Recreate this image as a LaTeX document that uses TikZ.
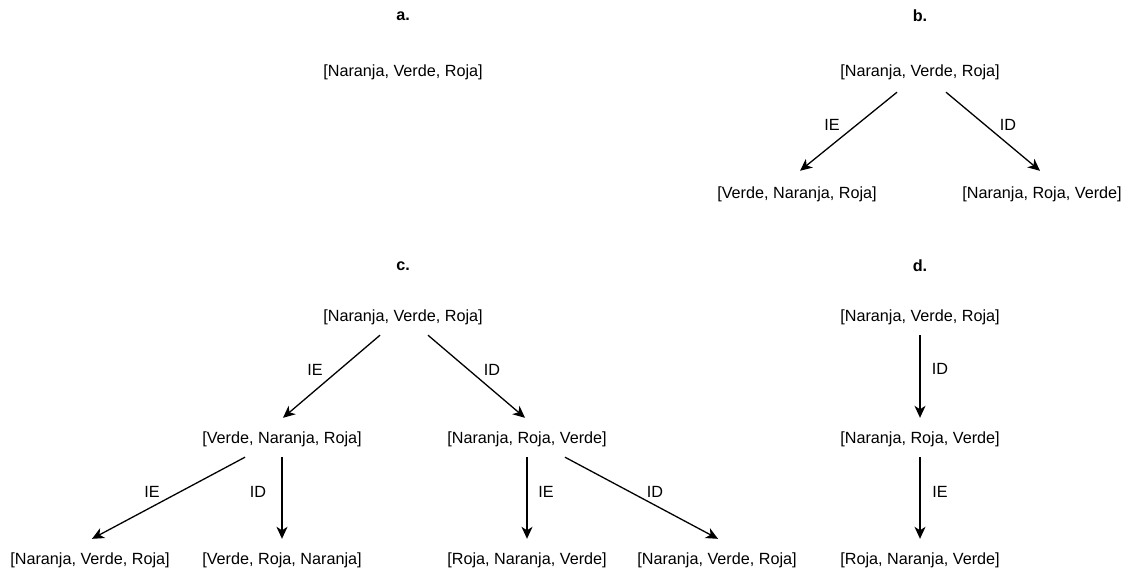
\documentclass[tikz,border=0pt]{standalone}
\usepackage{fontspec}
\setmainfont{Liberation Sans}
\usetikzlibrary{arrows.meta}
\begin{document}
\begin{tikzpicture}[x=1pt,y=-1pt,
  lst/.style={font=\fontsize{16.2}{19}\selectfont, inner xsep=0pt, inner ysep=14pt,
              text height=12pt, text depth=0pt},
  ttl/.style={font=\fontsize{16.2}{19}\selectfont\bfseries, inner sep=0pt, yshift=-4pt},
  lbl/.style={font=\fontsize{16.2}{19}\selectfont, inner sep=0pt},
  arr/.style={line width=1.3pt, -{Stealth[length=12pt,width=11pt,inset=3.5pt]}}]
\useasboundingbox (0,0) rectangle (1131,571);

% titles
\node[ttl] (ta) at (403,12) {a.};
\node[ttl] (tb) at (920,12) {b.};
\node[ttl] (tc) at (403,262) {c.};
\node[ttl] (td) at (920,262) {d.};

% a.
\node[lst] (a0) at (403,70) {[Naranja, Verde, Roja]};

% b.
\node[lst] (b0) at (920,70) {[Naranja, Verde, Roja]};
\node[lst] (b1) at (797,192) {[Verde, Naranja, Roja]};
\node[lst] (b2) at (1042,192) {[Naranja, Roja, Verde]};
\draw[arr] ([xshift=-23pt,yshift=-2pt]b0.south) -- ([xshift=3pt,yshift=1pt]b1.north);
\draw[arr] ([xshift=26pt,yshift=-2pt]b0.south) -- ([xshift=-2pt,yshift=1pt]b2.north);
\node[lbl] (b1l) at (832,125) {IE};
\node[lbl] (b2l) at (1008,125) {ID};

% c.
\node[lst] (c0) at (403,315) {[Naranja, Verde, Roja]};
\node[lst] (c1) at (282,437) {[Verde, Naranja, Roja]};
\node[lst] (c2) at (527,437) {[Naranja, Roja, Verde]};
\node[lst] (c3) at (90,558) {[Naranja, Verde, Roja]};
\node[lst] (c4) at (282,558) {[Verde, Roja, Naranja]};
\node[lst] (c5) at (527,558) {[Roja, Naranja, Verde]};
\node[lst] (c6) at (717,558) {[Naranja, Verde, Roja]};
\draw[arr] ([xshift=-23pt]c0.south) -- ([xshift=1pt,yshift=-1pt]c1.north);
\draw[arr] ([xshift=25pt]c0.south) -- ([xshift=-2pt,yshift=-1pt]c2.north);
\draw[arr] ([xshift=-37pt]c1.south) -- ([xshift=2pt,yshift=-1pt]c3.north);
\draw[arr] (c1.south) -- ([yshift=-1pt]c4.north);
\draw[arr] (c2.south) -- ([yshift=-1pt]c5.north);
\draw[arr] ([xshift=38pt]c2.south) -- ([xshift=1pt,yshift=-1pt]c6.north);
\node[lbl] (c1l) at (315,370) {IE};
\node[lbl] (c2l) at (492,370) {ID};
\node[lbl] (c3l) at (152,492) {IE};
\node[lbl] (c4l) at (258,492) {ID};
\node[lbl] (c5l) at (546,492) {IE};
\node[lbl] (c6l) at (655,492) {ID};

% d.
\node[lst] (d0) at (920,315) {[Naranja, Verde, Roja]};
\node[lst] (d1) at (920,437) {[Naranja, Roja, Verde]};
\node[lst] (d2) at (920,558) {[Roja, Naranja, Verde]};
\draw[arr] (d0.south) -- ([yshift=-1pt]d1.north);
\draw[arr] (d1.south) -- ([yshift=-1pt]d2.north);
\node[lbl] (d1l) at (940,369) {ID};
\node[lbl] (d2l) at (940,492) {IE};
\end{tikzpicture}
\end{document}
